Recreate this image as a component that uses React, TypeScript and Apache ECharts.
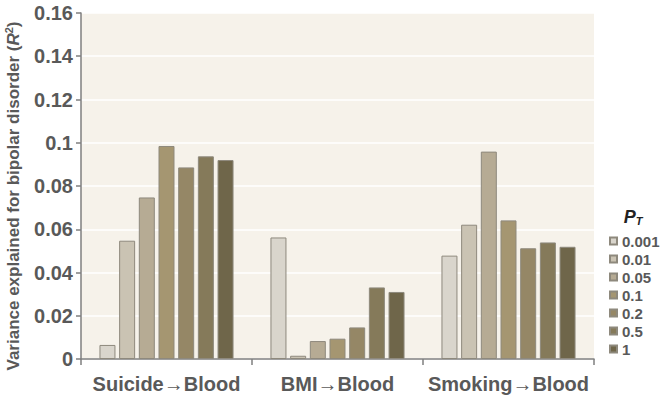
import React, { useEffect, useRef } from "react";
import * as echarts from "echarts";

const categories = ["Suicide→Blood", "BMI→Blood", "Smoking→Blood"];
const thresholds = ["0.001", "0.01", "0.05", "0.1", "0.2", "0.5", "1"];
const values: number[][] = [
  [0.0065, 0.0562, 0.0478],
  [0.0547, 0.0015, 0.0621],
  [0.0747, 0.0083, 0.0959],
  [0.0985, 0.0094, 0.0641],
  [0.0886, 0.0146, 0.0512],
  [0.0937, 0.0331, 0.0539],
  [0.092, 0.031, 0.0519],
];
const colors = ["#d9d5cc", "#cac3b3", "#b6ab94", "#a59671", "#958766", "#857a5a", "#6f664a"];
const yTicks = [0, 0.02, 0.04, 0.06, 0.08, 0.1, 0.12, 0.14, 0.16];

const FONT = "'Liberation Sans', Arial, sans-serif";
const TEXT = "#595959";
const AXIS = "#7f7f7f";

export default function App() {
  const ref = useRef<HTMLDivElement>(null);
  useEffect(() => {
    if (!ref.current) return;
    const chart = echarts.init(ref.current, undefined, { renderer: "svg" });
    chart.setOption({
      animation: false,
      textStyle: { fontFamily: FONT },
      grid: { left: 81, right: 67, top: 13, bottom: 43, show: true, backgroundColor: "#f6f2ea", borderWidth: 0 },
      xAxis: {
        type: "category",
        data: categories,
        axisLine: { lineStyle: { color: AXIS, width: 1.5 } },
        axisTick: { show: true, length: 6, lineStyle: { color: AXIS, width: 1.5 } },
        axisLabel: { interval: 0, color: TEXT, fontSize: 20, fontWeight: "bold", margin: 15, fontFamily: FONT },
      },
      yAxis: {
        type: "value",
        min: 0,
        max: 0.16,
        interval: 0.02,
        axisLine: { show: true, lineStyle: { color: AXIS, width: 1.5 } },
        axisTick: { show: true, length: 5, lineStyle: { color: AXIS, width: 1.5 } },
        splitLine: { lineStyle: { color: "#ffffff", width: 1.5 } },
        axisLabel: {
          color: TEXT,
          fontSize: 20,
          fontWeight: "bold",
          margin: 8,
          fontFamily: FONT,
          formatter: (v: number) => {
            const t = yTicks.find((y) => Math.abs(y - v) < 1e-9);
            return t === undefined ? "" : String(Number(t.toFixed(2)));
          },
        },
      },
      legend: {
        orient: "vertical",
        left: 609,
        top: 233,
        padding: 0,
        itemWidth: 7,
        itemHeight: 7,
        itemGap: 2,
        icon: "rect",
        data: thresholds,
        textStyle: { color: TEXT, fontSize: 15, fontWeight: "bold", lineHeight: 16, fontFamily: FONT },
      },
      graphic: [
        {
          type: "text",
          x: 13,
          y: 196,
          rotation: Math.PI / 2,
          style: {
            text: "{a|Variance explained for bipolar disorder (}{r|R}{s|2}{a|)}",
            align: "center",
            verticalAlign: "middle",
            rich: {
              a: { fontSize: 17, fontWeight: "bold", fill: TEXT, fontFamily: FONT },
              r: { fontSize: 17, fontWeight: "bold", fontStyle: "italic", fill: TEXT, fontFamily: FONT },
              s: { fontSize: 11, fontWeight: "bold", fill: TEXT, fontFamily: FONT, padding: [0, 0, 9, 0] },
            },
          },
        },
        {
          type: "text",
          x: 633,
          y: 217,
          style: {
            text: "{p|P}{t|T}",
            align: "center",
            verticalAlign: "middle",
            rich: {
              p: { fontSize: 18, fontWeight: "bold", fontStyle: "italic", fill: "#222", fontFamily: FONT },
              t: { fontSize: 11, fontWeight: "bold", fontStyle: "italic", fill: "#222", fontFamily: FONT, padding: [8, 0, 0, 0] },
            },
          },
        },
      ],
      series: thresholds.map((name, i) => ({
        type: "bar",
        name,
        data: values[i],
        barWidth: 16,
        barGap: "23%",
        itemStyle: { color: colors[i], borderColor: "#8e897d", borderWidth: 1 },
      })),
    });
    return () => chart.dispose();
  }, []);
  return <div ref={ref} style={{ width: 661, height: 402, position: "absolute", left: 0, top: 0 }} />;
}
